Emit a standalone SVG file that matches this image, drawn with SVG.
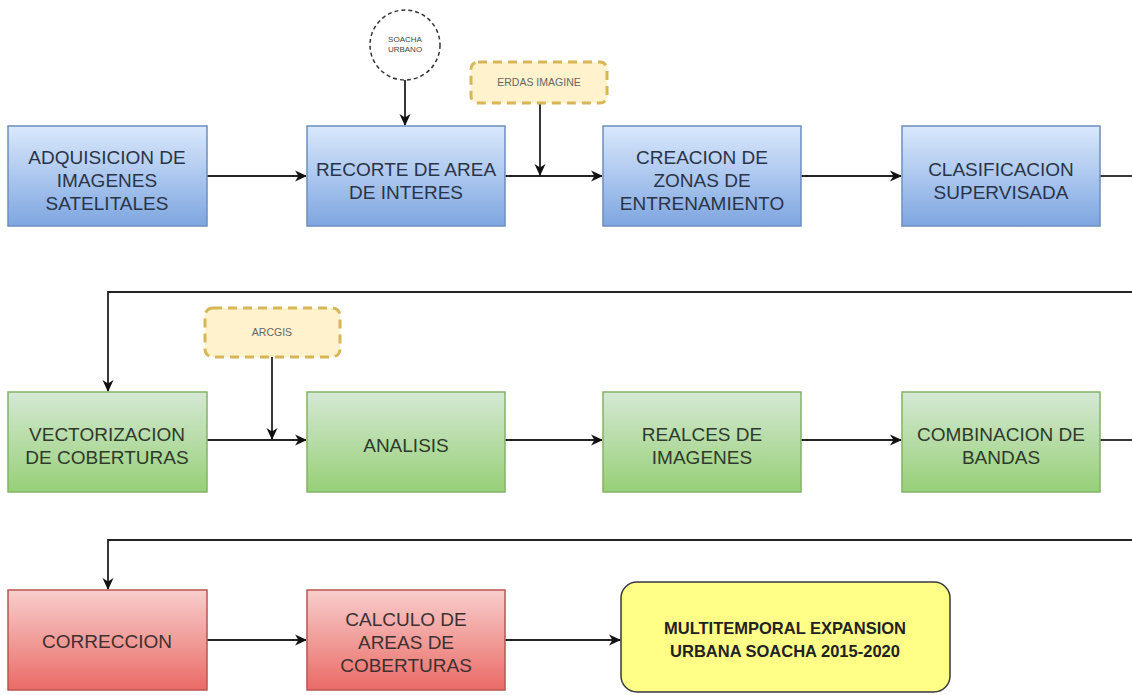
<svg xmlns="http://www.w3.org/2000/svg" width="1132" height="695" viewBox="0 0 1132 695">
<defs>
<linearGradient id="gb" x1="0" y1="0" x2="0" y2="1"><stop offset="0" stop-color="#dae8fc"/><stop offset="1" stop-color="#7ea6e0"/></linearGradient>
<linearGradient id="gg" x1="0" y1="0" x2="0" y2="1"><stop offset="0" stop-color="#d5e8d4"/><stop offset="1" stop-color="#97d077"/></linearGradient>
<linearGradient id="gr" x1="0" y1="0" x2="0" y2="1"><stop offset="0" stop-color="#f8cecc"/><stop offset="1" stop-color="#ea6b66"/></linearGradient>
<marker id="ah" viewBox="0 0 12 12" refX="11" refY="6" markerWidth="12" markerHeight="12" markerUnits="userSpaceOnUse" orient="auto"><path d="M0,0.5 L12,6 L0,11.5 L3.5,6 Z" fill="#111"/></marker>
</defs>
<style>
.t{font-family:"Liberation Sans",Arial,sans-serif;font-size:19px;text-anchor:middle}
.b rect{fill:url(#gb);stroke:#6c8ebf;stroke-width:1.5}
.g rect{fill:url(#gg);stroke:#82b366;stroke-width:1.5}
.r rect{fill:url(#gr);stroke:#b85450;stroke-width:1.5}
.b text{fill:#2a3448}.g text{fill:#2e3a2b}.r text{fill:#3e3030}
.tool rect{fill:#fff2cc;stroke:#d6b656;stroke-width:3;stroke-dasharray:9 6}
.tool text{font-size:10.5px;fill:#666}
.c{fill:none;stroke:#222;stroke-width:1.8}
.ca{fill:none;stroke:#222;stroke-width:1.8;marker-end:url(#ah)}
</style>
<rect width="1132" height="695" fill="#fff"/>

<g id="connectors">
<path class="ca" d="M207,176 H306"/>
<path class="ca" d="M505,176 H602"/>
<path class="ca" d="M801,176 H901"/>
<path class="c" d="M1100,176 H1132"/>
<path class="ca" d="M405,80 V125"/>
<path class="ca" d="M540,103 V175"/>
<path class="ca" d="M1132,292 H108 V391"/>
<path class="ca" d="M207,440 H306"/>
<path class="ca" d="M505,440 H602"/>
<path class="ca" d="M801,440 H901"/>
<path class="c" d="M1100,440 H1132"/>
<path class="ca" d="M272,357 V439"/>
<path class="ca" d="M1132,540 H108 V589"/>
<path class="ca" d="M207,640 H306"/>
<path class="ca" d="M505,640 H620"/>
</g>

<g id="soacha">
<circle cx="405" cy="45" r="35" fill="#fff" stroke="#333" stroke-width="1.5" stroke-dasharray="4 3"/>
<text class="t" x="405" y="42" style="font-size:8px;fill:#444">SOACHA</text>
<text class="t" x="405" y="52" style="font-size:8px;fill:#444">URBANO</text>
</g>
<g id="erdas" class="tool">
<rect x="471" y="62" width="136" height="41" rx="7"/>
<text class="t" x="539" y="86">ERDAS IMAGINE</text>
</g>
<g id="arcgis" class="tool">
<rect x="205" y="308" width="135" height="49" rx="8"/>
<text class="t" x="272" y="336">ARCGIS</text>
</g>

<g id="n1" class="b"><rect x="8" y="126" width="199" height="100"/>
<text class="t" x="107" y="164">ADQUISICION DE</text><text class="t" x="107" y="187">IMAGENES</text><text class="t" x="107" y="210">SATELITALES</text></g>
<g id="n2" class="b"><rect x="307" y="126" width="198" height="100"/>
<text class="t" x="406" y="176">RECORTE DE AREA</text><text class="t" x="406" y="199">DE INTERES</text></g>
<g id="n3" class="b"><rect x="603" y="126" width="198" height="100"/>
<text class="t" x="702" y="164">CREACION DE</text><text class="t" x="702" y="187">ZONAS DE</text><text class="t" x="702" y="210">ENTRENAMIENTO</text></g>
<g id="n4" class="b"><rect x="902" y="126" width="198" height="100"/>
<text class="t" x="1001" y="176">CLASIFICACION</text><text class="t" x="1001" y="199">SUPERVISADA</text></g>

<g id="n5" class="g"><rect x="8" y="392" width="199" height="100"/>
<text class="t" x="107" y="441">VECTORIZACION</text><text class="t" x="107" y="464">DE COBERTURAS</text></g>
<g id="n6" class="g"><rect x="307" y="392" width="198" height="100"/>
<text class="t" x="406" y="452">ANALISIS</text></g>
<g id="n7" class="g"><rect x="603" y="392" width="198" height="100"/>
<text class="t" x="702" y="441">REALCES DE</text><text class="t" x="702" y="464">IMAGENES</text></g>
<g id="n8" class="g"><rect x="902" y="392" width="198" height="100"/>
<text class="t" x="1001" y="441">COMBINACION DE</text><text class="t" x="1001" y="464">BANDAS</text></g>

<g id="n9" class="r"><rect x="8" y="590" width="199" height="100"/>
<text class="t" x="107" y="648">CORRECCION</text></g>
<g id="n10" class="r"><rect x="307" y="590" width="198" height="100"/>
<text class="t" x="406" y="626">CALCULO DE</text><text class="t" x="406" y="649">AREAS DE</text><text class="t" x="406" y="672">COBERTURAS</text></g>

<g id="n11"><rect x="621" y="582" width="329" height="110" rx="16" fill="#ffff88" stroke="#36393d" stroke-width="1.5"/>
<text class="t" x="785" y="634" style="font-weight:bold;font-size:16.5px;fill:#222">MULTITEMPORAL EXPANSION</text>
<text class="t" x="785" y="657" style="font-weight:bold;font-size:16.5px;fill:#222">URBANA SOACHA 2015-2020</text></g>
</svg>
